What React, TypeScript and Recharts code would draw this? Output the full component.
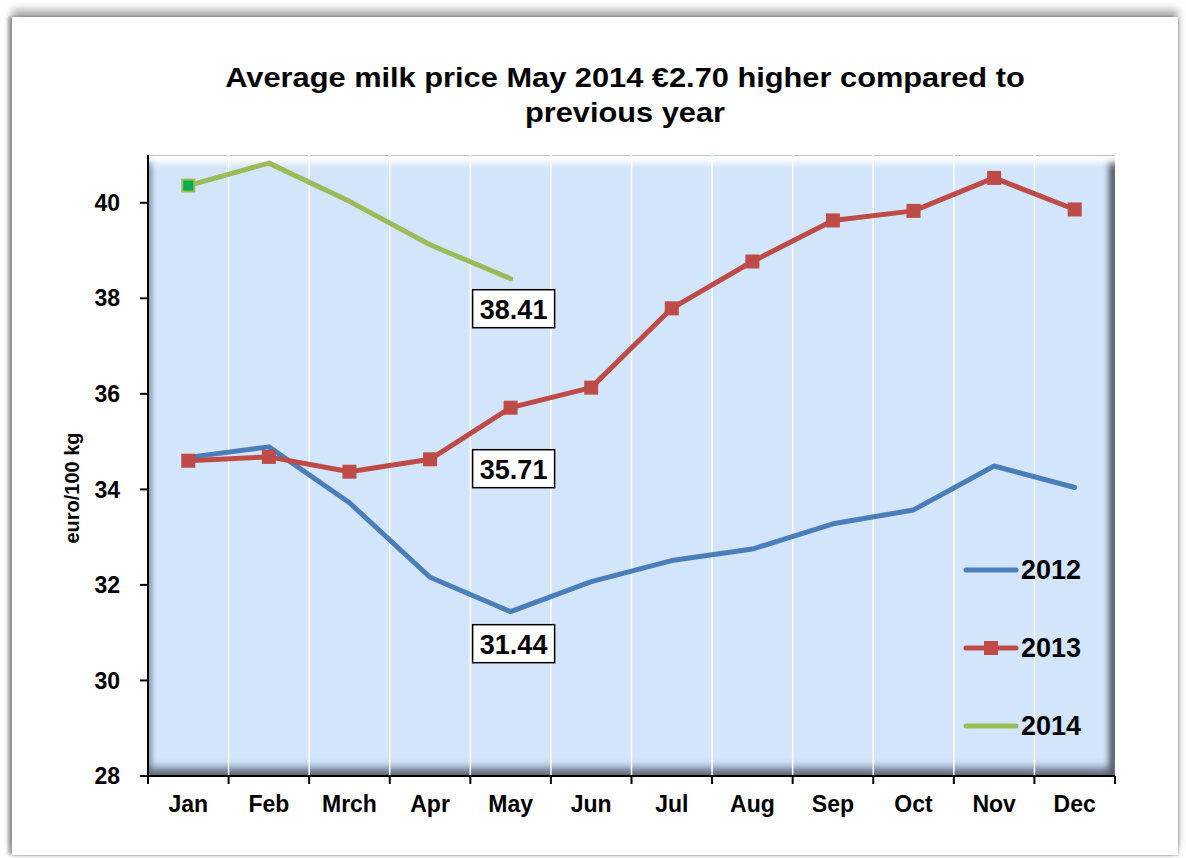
import React from 'react';
import { LineChart, Line, XAxis, YAxis, CartesianGrid, Legend } from 'recharts';

const MONTHS = ['Jan', 'Feb', 'Mrch', 'Apr', 'May', 'Jun', 'Jul', 'Aug', 'Sep', 'Oct', 'Nov', 'Dec'];
const PRICE_2012 = [34.67, 34.89, 33.72, 32.16, 31.44, 32.07, 32.51, 32.75, 33.28, 33.57, 34.49, 34.04];
const PRICE_2013 = [34.6, 34.68, 34.37, 34.63, 35.71, 36.13, 37.79, 38.77, 39.63, 39.83, 40.52, 39.86];
const PRICE_2014 = [40.36, 40.83, 40.03, 39.12, 38.41];
const Y_TICKS = [28, 30, 32, 34, 36, 38, 40];

const BLUE = '#4A7EBB';
const RED = '#BE4B48';
const GREEN = '#9BBB59';
const FONT = "'Liberation Sans', Arial, sans-serif";

// chart layout
const W = 1186;
const H = 858;
const PLOT_LEFT = 148;
const PLOT_TOP = 155;
const PLOT_RIGHT = 1115;
const PLOT_BOTTOM = 776;
const PLOT_W = PLOT_RIGHT - PLOT_LEFT;
const BAND = PLOT_W / MONTHS.length;

const data = MONTHS.map((month, i) => ({
  month,
  y2012: PRICE_2012[i],
  y2013: PRICE_2013[i],
  y2014: PRICE_2014[i] ?? null,
}));

const gridX = MONTHS.slice(1).map((_, i) => PLOT_LEFT + (i + 1) * BAND);

const LEGEND = [
  { name: '2012', color: BLUE, marker: false },
  { name: '2013', color: RED, marker: true },
  { name: '2014', color: GREEN, marker: false },
];

function XTick(props: any) {
  const { x, y, payload, index } = props;
  const half = BAND / 2;
  return (
    <g>
      <line x1={x - half} x2={x - half} y1={y} y2={y + 8} stroke="#000" strokeWidth={2} />
      {index === MONTHS.length - 1 && (
        <line x1={x + half} x2={x + half} y1={y} y2={y + 8} stroke="#000" strokeWidth={2} />
      )}
      <text
        x={x}
        y={y + 36}
        textAnchor="middle"
        fontFamily={FONT}
        fontWeight="bold"
        fontSize={23}
        fill="#000"
      >
        {payload.value}
      </text>
    </g>
  );
}

// boxed value label on the May point
function boxLabel(dy: number) {
  return (props: any) => {
    const { index, value } = props;
    if (index !== 4 || value == null) return null;
    const x = props.x ?? props.viewBox?.x;
    const y = props.y ?? props.viewBox?.y;
    const cx = x + 3;
    const cy = y + dy;
    return (
      <g key={`lbl-${dy}`}>
        <rect x={cx - 41} y={cy - 19} width={82} height={38} fill="#fff" stroke="#000" strokeWidth={1.5} />
        <text
          x={cx}
          y={cy + 10}
          textAnchor="middle"
          fontFamily={FONT}
          fontWeight="bold"
          fontSize={27}
          fill="#000"
        >
          {Number(value).toFixed(2)}
        </text>
      </g>
    );
  };
}

function RedDot(props: any) {
  const { cx, cy, index } = props;
  if (cx == null || cy == null) return <g key={`r-${index}`} />;
  return <rect key={`r-${index}`} x={cx - 7} y={cy - 7} width={14} height={14} fill={RED} />;
}

function GreenDot(props: any) {
  const { cx, cy, index } = props;
  if (index !== 0 || cx == null || cy == null) return <g key={`g-${index}`} />;
  return (
    <rect
      key={`g-${index}`}
      x={cx - 6}
      y={cy - 6}
      width={12}
      height={12}
      fill="#00B050"
      stroke={GREEN}
      strokeWidth={2}
    />
  );
}

function LegendBox() {
  return (
    <div style={{ fontFamily: FONT }}>
      {LEGEND.map((s) => (
        <div key={s.name} style={{ height: 78, display: 'flex', alignItems: 'center' }}>
          <svg width={56} height={20}>
            <line x1={3} x2={53} y1={10} y2={10} stroke={s.color} strokeWidth={5} strokeLinecap="round" />
            {s.marker && <rect x={21} y={3} width={14} height={14} fill={s.color} />}
          </svg>
          <span style={{ marginLeft: 2, fontWeight: 'bold', fontSize: 27, color: '#000' }}>{s.name}</span>
        </div>
      ))}
    </div>
  );
}

export default function App() {
  return (
    <div style={{ position: 'absolute', left: 0, top: 0, width: W, height: H, background: '#fff', overflow: 'hidden' }}>
      {/* outer frame */}
      <div
        style={{
          position: 'absolute',
          left: 12,
          top: 17,
          width: 1166,
          height: 838,
          background: '#fff',
          boxShadow: '0 -7px 8px rgba(0,0,0,0.35), -4px 0 3px rgba(0,0,0,0.3), 1px 1px 2px rgba(0,0,0,0.2)',
        }}
      />
      {/* plot area with bevel */}
      <div
        style={{
          position: 'absolute',
          left: PLOT_LEFT,
          top: PLOT_TOP,
          width: PLOT_W,
          height: PLOT_BOTTOM - PLOT_TOP,
          background: '#D3E5FA',
          borderTop: '1px solid #b9c3ce',
          boxSizing: 'border-box',
          boxShadow:
            'inset 0 11px 7px -4px #ffffff, inset -9px 0 6px -3px #4e5a6a, inset 0 -11px 8px -3px #5f6a7b, inset 6px 0 5px -2px #8d9bb0',
        }}
      />
      <div
        style={{
          position: 'absolute',
          left: 125,
          top: 61,
          width: 1000,
          textAlign: 'center',
          fontFamily: FONT,
          fontWeight: 'bold',
          fontSize: 27,
          lineHeight: '35px',
          color: '#000',
          transform: 'scaleX(1.14)',
        }}
      >
        Average milk price May 2014 €2.70 higher compared to
        <br />
        previous year
      </div>
      <div
        style={{
          position: 'absolute',
          left: 72,
          top: 488,
          transform: 'translate(-50%, -50%) rotate(-90deg)',
          fontFamily: FONT,
          fontWeight: 'bold',
          fontSize: 20,
          whiteSpace: 'nowrap',
          color: '#000',
        }}
      >
        euro/100 kg
      </div>
      <div style={{ position: 'absolute', left: 0, top: 0 }}>
        <LineChart
          width={W}
          height={H}
          data={data}
          margin={{ top: PLOT_TOP, right: W - PLOT_RIGHT, bottom: 0, left: 60 }}
        >
          <CartesianGrid horizontal={false} verticalPoints={gridX} stroke="#ffffff" strokeWidth={1.5} />
          <XAxis
            dataKey="month"
            scale="band"
            height={H - PLOT_BOTTOM}
            interval={0}
            tickLine={false}
            tickSize={0}
            tickMargin={0}
            axisLine={{ stroke: '#000', strokeWidth: 2 }}
            tick={<XTick />}
          />
          <YAxis
            width={PLOT_LEFT - 60}
            domain={[28, 41]}
            ticks={Y_TICKS}
            interval={0}
            tickSize={8}
            tickMargin={20}
            axisLine={{ stroke: '#000', strokeWidth: 2 }}
            tickLine={{ stroke: '#000', strokeWidth: 2 }}
            tick={{ fontFamily: FONT, fontWeight: 'bold', fontSize: 23, fill: '#000' }}
          />
          <Legend
            layout="horizontal"
            align="center"
            verticalAlign="middle"
            content={<LegendBox />}
            wrapperStyle={{ position: 'absolute', left: 963, top: 531, width: 150 }}
          />
          <Line
            dataKey="y2012"
            stroke={BLUE}
            strokeWidth={5}
            strokeLinecap="round"
            strokeLinejoin="round"
            dot={false}
            activeDot={false}
            label={boxLabel(32)}
            isAnimationActive={false}
          />
          <Line
            dataKey="y2013"
            stroke={RED}
            strokeWidth={5}
            strokeLinecap="round"
            strokeLinejoin="round"
            dot={RedDot}
            activeDot={false}
            label={boxLabel(61)}
            isAnimationActive={false}
          />
          <Line
            dataKey="y2014"
            stroke={GREEN}
            strokeWidth={5}
            strokeLinecap="round"
            strokeLinejoin="round"
            dot={GreenDot}
            activeDot={false}
            label={boxLabel(30)}
            isAnimationActive={false}
          />
        </LineChart>
      </div>
    </div>
  );
}
